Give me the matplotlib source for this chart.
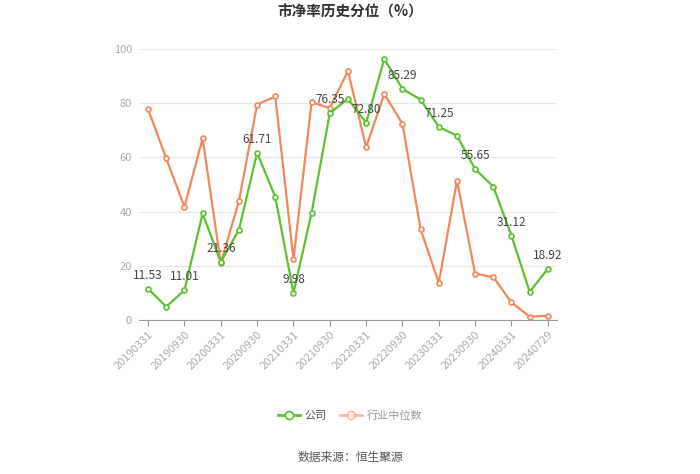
import numpy as np
import matplotlib
matplotlib.use("Agg")
import matplotlib.pyplot as plt

plt.rcParams['font.family'] = ['Noto Sans CJK SC', 'DejaVu Sans']

#数据
dates = ["20190331", "20190630", "20190930", "20191231", "20200331", "20200630",
         "20200930", "20201231", "20210331", "20210630", "20210930", "20211231",
         "20220331", "20220630", "20220930", "20221231", "20230331", "20230630",
         "20230930", "20231231", "20240331", "20240630", "20240729"]
company = [11.53, 4.9, 11.01, 39.3, 21.36, 33.3, 61.71, 45.4, 9.98, 39.6, 76.35, 81.6,
           72.80, 96.3, 85.29, 81.3, 71.25, 68.0, 55.65, 49.2, 31.12, 10.4, 18.92]
industry = [77.8, 59.6, 41.7, 67.1, 20.9, 43.9, 79.5, 82.5, 22.5, 80.4, 78.2, 91.9,
            63.8, 83.4, 72.4, 33.4, 13.7, 51.4, 17.1, 15.8, 6.5, 1.2, 1.6]
label_idx = list(range(0, len(dates), 2))

green = "#5cc22e"
orange = "#f4875a"

fig = plt.figure(figsize=(7, 4.74), dpi=100)
ax = fig.add_axes([0.1986, 0.3249, 0.597, 0.5717])

x = np.arange(len(dates))
ax.plot(x, industry, color=orange, lw=1.6, marker="o", ms=3.6, mfc="white",
        mec=orange, mew=1.2, label="行业中位数", zorder=3)
ax.plot(x, company, color=green, lw=1.6, marker="o", ms=3.6, mfc="white",
        mec=green, mew=1.2, label="公司", zorder=4)

for i in label_idx:
    ax.annotate("{:.2f}".format(company[i]), (x[i], company[i]), xytext=(0, 5),
                textcoords="offset points", ha="center", va="bottom",
                fontsize=8.5, color="#444444", zorder=5)

ax.set_xlim(-0.5, len(dates) - 0.5)
ax.set_ylim(0, 100)
ax.set_yticks([0, 20, 40, 60, 80, 100])
ax.set_xticks(label_idx)
ax.set_xticklabels([dates[i] for i in label_idx], rotation=45, ha="right",
                   rotation_mode="anchor", fontsize=8, color="#aaaaaa")
ax.tick_params(axis="y", length=0, labelsize=8, labelcolor="#aaaaaa", pad=5)
ax.tick_params(axis="x", length=4, color="#999999", pad=3)
ax.grid(axis="y", color="#e8e8e8", lw=0.9)
ax.set_axisbelow(True)
for s in ["top", "right", "left"]:
    ax.spines[s].set_visible(False)
ax.spines["bottom"].set_color("#999999")

fig.text(0.5, 0.975, "市净率历史分位（%）", ha="center", va="center",
         fontsize=10.5, fontweight="bold", color="#333333")

handles, labels = ax.get_legend_handles_labels()
leg = fig.legend(handles[::-1], labels[::-1], loc="center", bbox_to_anchor=(0.5, 0.124),
                 ncol=2, frameon=False, fontsize=8,
                 handlelength=2, columnspacing=1.2, handletextpad=0.4, markerscale=1.6)
for h in leg.legend_handles:
    h.set_linewidth(2)
# 行业中位数图例颜色较浅
leg.legend_handles[1].set_alpha(0.55)
leg.get_texts()[0].set_color("#555555")
leg.get_texts()[1].set_color("#999999")

fig.text(0.5, 0.034, "数据来源：恒生聚源", ha="center", va="center",
         fontsize=8.5, color="#555555")

plt.savefig("out.png", dpi=100)
